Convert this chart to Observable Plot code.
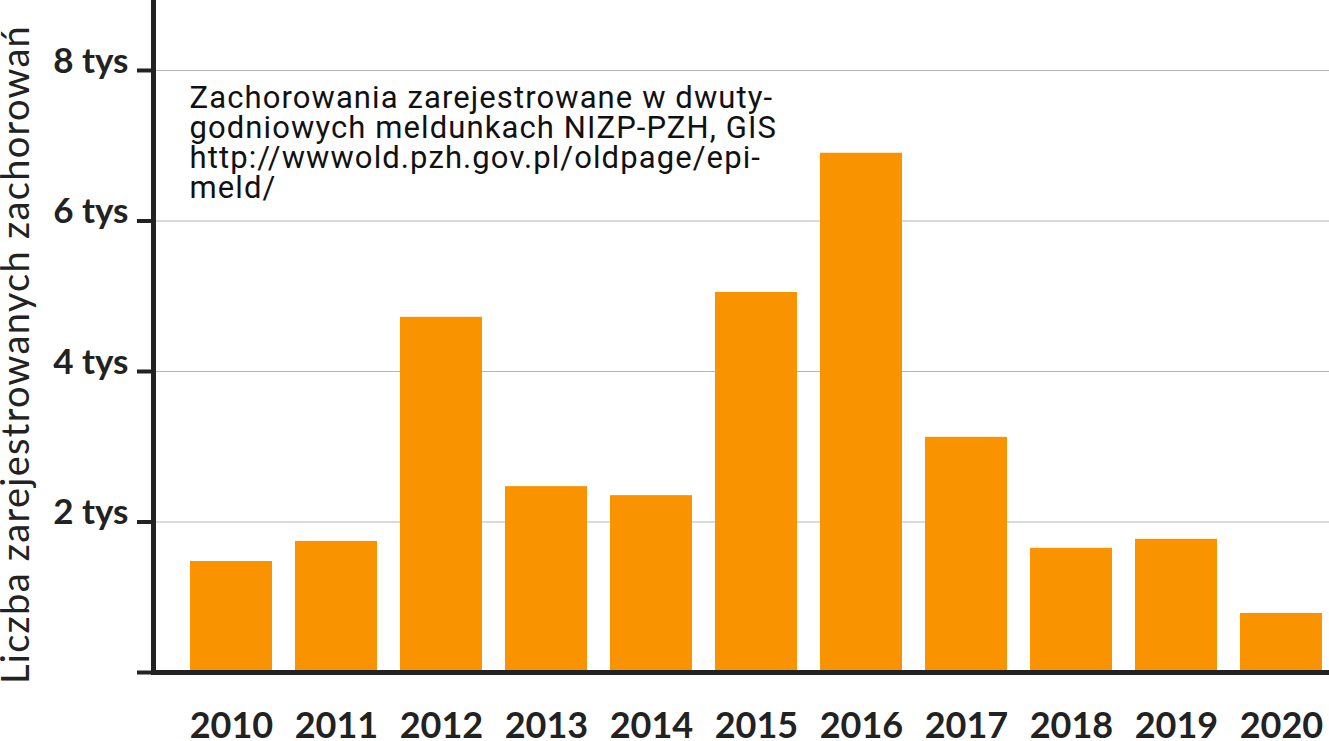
<!DOCTYPE html>
<html>
<head>
<meta charset="utf-8">
<script src="https://cdn.jsdelivr.net/npm/d3@7"></script>
<script src="https://cdn.jsdelivr.net/npm/@observablehq/plot@0.6"></script>
<style>
  html, body { margin: 0; padding: 0; background: #fff; }
  #chart svg { display: block; }
</style>
</head>
<body>
<div id="chart"></div>
<script>
const years = ["2010","2011","2012","2013","2014","2015","2016","2017","2018","2019","2020"];
const cases = [1475, 1742, 4720, 2470, 2350, 5050, 6900, 3125, 1650, 1770, 785];
const yTicks = [0, 2000, 4000, 6000, 8000];
const yTickLabels = ["", "2 tys", "4 tys", "6 tys", "8 tys"];
const gridValues = [2000, 4000, 6000, 8000];
const yLabel = "Liczba zarejestrowanych zachorowań";
const note = "Zachorowania zarejestrowane w dwuty-\ngodniowych meldunkach NIZP-PZH, GIS\nhttp://wwwold.pzh.gov.pl/oldpage/epi-\nmeld/";

const data = years.map((y, i) => ({year: y, value: cases[i]}));

const chart = Plot.plot({
  width: 1329,
  height: 741,
  marginLeft: 153,
  marginRight: 0,
  marginTop: 0,
  marginBottom: 69,
  style: {fontFamily: "Lato, sans-serif", color: "#222", background: "#fff", overflow: "visible"},
  x: {type: "band", domain: years, paddingInner: 0.22, paddingOuter: 0.2046, align: 0.837, label: null},
  y: {domain: [0, 8930], label: null},
  marks: [
    Plot.ruleY(gridValues, {stroke: "#b5b5b5", strokeWidth: 1}),
    Plot.barY(data, {x: "year", y: "value", fill: "#f99400"}),
    // tick marks
    Plot.axisY({
      ticks: yTicks,
      tickFormat: () => "",
      tickSize: 16,
      strokeWidth: 4,
      stroke: "#222",
      label: null
    }),
    // tick labels
    Plot.axisY({
      ticks: yTicks,
      tickFormat: (d) => yTickLabels[yTicks.indexOf(d)],
      tickSize: 0,
      tickPadding: 25,
      fill: "#222",
      fontSize: 35,
      fontWeight: "bold",
      dy: -9,
      label: null
    }),
    Plot.axisX({
      tickSize: 0,
      tickPadding: 40,
      fontSize: 36,
      fontWeight: "bold",
      fill: "#222",
      label: null
    }),
    Plot.frame({anchor: "left", stroke: "#222", strokeWidth: 5}),
    Plot.frame({anchor: "bottom", stroke: "#222", strokeWidth: 5}),
    Plot.text([yLabel], {
      text: (d) => d,
      frameAnchor: "left",
      rotate: -90,
      dx: -137,
      dy: 18,
      fontSize: 38,
      fill: "#222",
      textAnchor: "middle",
      lineAnchor: "middle",
      fontFamily: "Lato, sans-serif"
    }),
    Plot.text([note], {
      text: (d) => d,
      frameAnchor: "top-left",
      dx: 36,
      dy: 86,
      textAnchor: "start",
      lineAnchor: "top",
      lineHeight: 0.97,
      fontSize: 31,
      fill: "#111",
      fontFamily: "Roboto, sans-serif"
    })
  ]
});
d3.select(chart).selectAll("text").each(function () {
  const t = this.textContent;
  if (t.startsWith("Liczba")) this.style.letterSpacing = "1.3px";
  if (t.startsWith("Zachorowania")) this.style.letterSpacing = "1.1px";
});
document.getElementById("chart").appendChild(chart);
</script>
</body>
</html>
